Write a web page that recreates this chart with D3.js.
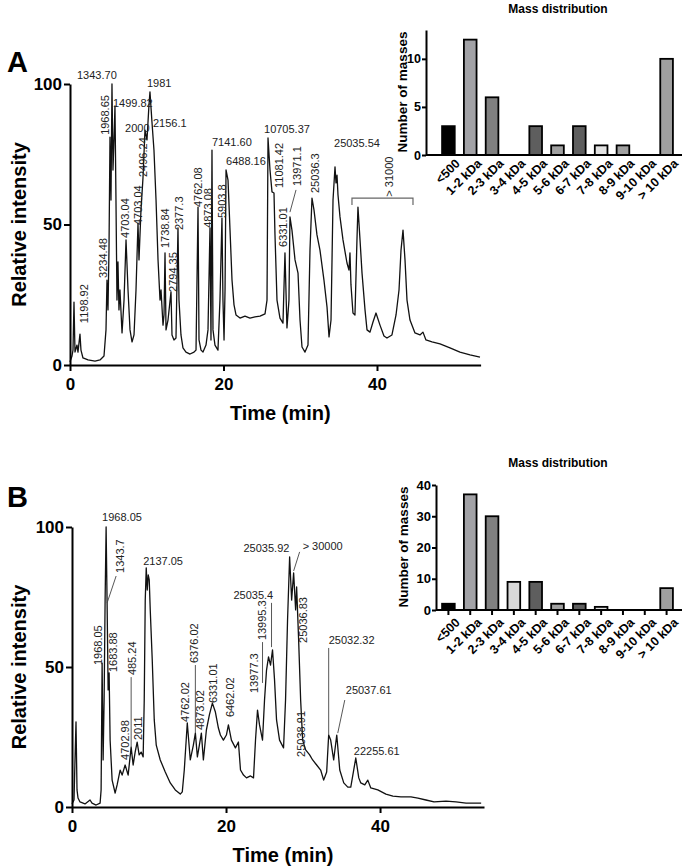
<!DOCTYPE html>
<html><head><meta charset="utf-8">
<script src="https://cdn.jsdelivr.net/npm/d3@7"></script>
<style>body{margin:0;background:#fff} svg{display:block}</style>
</head><body><svg id="c" width="688" height="867"></svg>
<script>
// ---------------- DATA ----------------
const timeA = [0,0.26,0.39,0.52,0.65,0.91,1.04,1.30,1.43,1.69,2.35,3.26,3.91,4.43,4.69,4.82,4.95,5.08,5.21,5.34,5.47,5.60,5.73,5.86,5.99,6.12,6.25,6.38,6.51,6.78,7.04,7.30,7.56,7.82,8.08,8.34,8.60,8.86,8.99,9.25,9.51,9.77,10.03,10.29,10.42,10.68,10.94,11.21,11.47,11.73,11.86,12.12,12.25,12.38,12.51,12.77,13.16,13.29,13.55,13.81,14.07,14.20,14.46,14.72,15.11,15.64,16.16,16.42,16.68,16.81,17.07,17.33,17.72,17.98,18.24,18.37,18.50,18.63,18.89,19.28,19.54,19.80,19.93,20.07,20.20,20.33,20.59,20.85,21.11,21.37,21.63,22.15,22.80,23.45,24.10,24.76,25.41,25.67,25.80,26.06,26.32,26.58,26.71,26.97,27.36,27.75,28.01,28.27,28.53,28.66,28.92,29.32,29.71,29.97,30.23,30.62,31.01,31.27,31.53,31.79,32.18,32.57,33.09,33.49,33.75,34.01,34.27,34.53,34.66,34.79,34.92,35.18,35.57,36.09,36.35,36.48,36.61,36.87,37.13,37.39,37.52,37.79,38.05,38.44,38.70,39.09,39.48,39.87,40.39,40.91,41.30,41.95,42.48,42.87,43.13,43.39,43.65,43.91,44.30,44.95,45.60,45.99,46.38,47.17,48.21,49.51,50.81,52.12,53.42];
const intensityA = [1.1,3.2,5.3,22.4,4.6,7.1,4.6,11.0,5.3,2.5,1.8,1.4,1.8,3.2,12.5,30.2,19.6,40.9,81.1,58.7,100,69.4,80.1,92.2,58.7,23.1,36.7,19.6,26.7,11.4,23.1,44.5,26.7,12.5,8.2,10.7,26.7,50.5,37.4,55.2,66.6,83.6,80.1,92.5,97.2,86.5,76.5,58.7,37.4,23.1,26.7,14.2,17.8,39.9,12.5,16.0,26.0,10.7,8.9,9.6,48.8,23.1,10.7,6.1,4.6,3.9,4.6,5.3,56.2,8.9,5.3,4.6,7.1,12.5,48.8,8.9,76.5,12.5,7.1,5.3,23.1,52.3,23.1,8.9,26.7,69.4,65.8,48.0,30.2,21.4,17.8,16.7,17.4,16.7,17.1,17.4,18.2,23.1,80.8,69.4,61.6,61.2,46.3,23.1,16.7,14.9,39.9,13.2,23.1,52.7,48.0,37.4,32.7,16.0,6.4,4.6,7.1,40.9,59.4,55.2,46.3,40.9,30.2,20.6,10.0,16.0,58.7,70.5,64.8,67.6,60.5,52.7,44.5,36.3,33.8,39.9,28.5,18.5,17.8,44.5,56.2,44.5,32.7,19.6,12.5,11.7,15.3,18.5,14.2,10.3,9.6,10.7,17.8,26.7,40.9,48.0,37.4,23.1,16.0,11.4,10.7,11.7,8.9,8.2,7.5,6.1,4.6,3.6,2.8];

const timeB = [0,0.26,0.39,0.52,0.65,0.78,1.04,1.69,2.34,2.60,3.13,3.65,3.78,3.91,4.04,4.17,4.30,4.43,4.56,4.69,4.82,4.95,5.21,5.60,5.86,6.25,6.51,6.90,7.29,7.68,7.94,8.20,8.46,8.72,8.98,9.24,9.38,9.51,9.64,9.77,9.90,10.03,10.16,10.42,10.68,10.94,11.46,12.11,12.76,13.41,14.06,14.32,14.58,14.97,15.36,15.76,16.02,16.28,16.54,16.80,17.06,17.45,17.84,18.23,18.62,19.01,19.27,19.66,20.05,20.31,20.70,21.22,21.61,21.88,22.27,22.66,23.18,23.57,23.83,24.09,24.35,24.74,25.00,25.26,25.52,25.78,26.04,26.30,26.56,26.95,27.47,27.73,27.99,28.26,28.52,28.78,29.04,29.17,29.43,29.69,29.95,30.34,30.86,31.25,31.77,32.29,32.68,33.07,33.33,33.59,33.98,34.38,34.77,35.29,35.81,36.20,36.85,37.24,37.50,38.02,38.41,38.80,39.71,40.76,41.67,42.71,44.01,44.92,45.96,47.01,48.57,49.87,51.17,53.13];
const intensityB = [1.1,2.5,16.8,30.4,6.1,3.2,1.8,1.1,2.5,1.4,0.7,1.4,6.1,51.4,16.8,38.2,73.9,100,72.1,41.8,47.9,23.9,9.6,5.0,7.9,13.2,11.4,15.0,11.4,21.4,15.0,19.6,23.2,18.6,19.6,17.9,38.2,73.9,85.4,77.5,82.9,81.1,70.4,52.5,31.1,22.1,16.8,12.5,8.6,6.1,4.6,5.4,13.2,30.0,16.8,22.1,26.4,17.9,22.1,26.4,16.8,27.5,32.9,37.1,33.9,28.2,25.7,23.9,25.7,29.3,23.9,21.1,23.2,13.2,11.4,10.4,11.1,10.4,23.9,34.6,29.3,23.9,38.2,48.9,53.6,50.7,56.1,45.4,31.1,23.9,21.1,38.2,66.8,89.3,73.9,83.6,70.4,78.6,59.6,38.2,23.9,20.4,18.6,16.8,15.0,13.2,9.6,12.5,25.7,23.9,16.8,25.7,13.2,8.6,7.1,7.1,17.5,10.4,8.6,7.9,9.6,6.8,6.1,4.6,3.9,3.6,3.6,3.2,2.5,1.8,2.1,1.8,1.4,1.4];

const xTicks = [0, 20, 40];
const yTicks = [0, 50, 100];

// peak annotations: [text, time, intensity, vertical?]
const peakLabelsA = [
  ["1343.70",0.91,101.8,0],["1499.82",5.60,91.8,0],["1981",10.03,98.9,0],["2000",7.17,82.9,0],
  ["2156.1",10.81,84.7,0],["7141.60",18.50,77.9,0],["6488.16",20.33,71.2,0],["10705.37",25.28,82.6,0],
  ["25035.54",34.40,77.6,0],
  ["1198.92",1.82,14.9,1],["3234.48",4.30,31.0,1],["1968.65",4.56,81.9,1],["4703.04",7.17,45.2,1],
  ["4703.04",8.86,49.8,1],["2496.24",9.51,66.9,1],["1738.84",12.38,41.6,1],["2794.35",13.42,26.0,1],
  ["2377.3",14.20,48.0,1],["4762.08",16.68,56.2,1],["4873.08",17.98,48.8,1],["5903.8",19.80,52.3,1],
  ["11081.42",27.23,63.0,1],["6331.01",27.75,42.0,1],["13971.1",29.58,63.7,1],["25036.3",31.92,61.2,1],
  ["> 31000",41.56,59.9,1]
];
const leadersA = [[28.66,54.4,29.45,62.3]];
const bracketA = [36.74, 44.69, 59.4, 56.9];

const peakLabelsB = [
  ["1968.05",3.91,102.1,0],["2137.05",9.24,86.4,0],["25035.92",22.27,91.1,0],["> 30000",29.95,91.8,0],
  ["25035.4",20.96,74.3,0],["25032.32",33.33,58.2,0],["25037.61",35.55,40.4,0],["22255.61",36.59,18.6,0],
  ["1968.05",3.39,50.7,1],["1343.7",6.25,83.6,1],["1683.88",5.34,48.2,1],["485.24",7.81,47.1,1],
  ["4702.98",6.90,16.8,1],["2011",8.59,23.9,1],["4762.02",14.71,30.4,1],["6376.02",15.89,51.4,1],
  ["4873.02",16.67,27.5,1],["6331.01",18.36,37.1,1],["6462.02",20.57,32.1,1],["13977.3",23.70,40.7,1],
  ["13995.3",24.74,59.6,1],["25036.83",29.95,58.6,1],["25038.91",29.69,17.9,1]
];
const leadersB = [
  [4.56,72.9,5.73,82.5],[7.68,46.4,7.68,21.4],[16.02,50.7,16.02,26.4],[24.74,58.9,24.74,44.3],
  [25.91,72.9,25.91,57.1],[28.78,84.3,29.56,91.1],[33.33,56.8,33.33,25.7],[35.42,38.2,34.51,26.4]
];

const massCategories = ["<500","1-2 kDa","2-3 kDa","3-4 kDa","4-5 kDa","5-6 kDa","6-7 kDa","7-8 kDa","8-9 kDa","9-10 kDa","> 10 kDa"];
const massCountsA = [3,12,6,0,3,1,3,1,1,0,10];
const massCountsB = [2,37,30,9,9,2,2,1,0,0,7];
const massTicksA = [0,5,10];
const massTicksB = [0,10,20,30,40];

// ---------------- STYLE ----------------
const FONT = "Arial, 'Liberation Sans', Helvetica, sans-serif";
const barFill = ["#000000","#a2a2a6","#808080","#d9d9d9","#5e5e5e","#a0a0a0","#5e5e5e","#e2e2e2","#a0a0a0","#a0a0a0","#a0a0a0"];
const svg = d3.select("#c");

function styleAxis(g, size) {
  g.selectAll("path.domain").attr("stroke","#000").attr("stroke-width",2);
  g.selectAll(".tick line").attr("stroke","#000").attr("stroke-width",2);
  g.selectAll(".tick text").attr("fill","#000").style("font-family",FONT)
    .style("font-weight","bold").style("font-size",size+"px");
}

function drawChrom(o) {
  const x = d3.scaleLinear().domain([0,53.5]).range(o.xr);
  const y = d3.scaleLinear().domain([0,100]).range(o.yr);
  const g = svg.append("g");
  const pts = o.times.map((t,i)=>[t,o.vals[i]]);
  g.append("path").datum(pts)
    .attr("d", d3.line().x(d=>x(d[0])).y(d=>y(d[1])))
    .attr("fill","none").attr("stroke","#111").attr("stroke-width",1.3).attr("stroke-linejoin","round");

  const gx = g.append("g").attr("transform",`translate(0,${o.yr[0]})`)
    .call(d3.axisBottom(x).tickValues(xTicks).tickSize(6).tickSizeOuter(0).tickPadding(7).tickFormat(d3.format("d")));
  styleAxis(gx, 17);
  const gy = g.append("g").attr("transform",`translate(${o.xr[0]},0)`)
    .call(d3.axisLeft(y).tickValues(yTicks).tickSize(6).tickSizeOuter(0).tickPadding(2).tickFormat(d3.format("d")));
  styleAxis(gy, 17);

  g.selectAll("line.ld").data(o.leaders).enter().append("line")
    .attr("x1",d=>x(d[0])).attr("y1",d=>y(d[1])).attr("x2",d=>x(d[2])).attr("y2",d=>y(d[3]))
    .attr("stroke","#444").attr("stroke-width",0.9);

  g.selectAll("text.pk").data(o.labels).enter().append("text")
    .attr("transform",d=> d[3] ? `translate(${x(d[1])},${y(d[2])}) rotate(-90)` : `translate(${x(d[1])},${y(d[2])})`)
    .attr("dy",d=> d[3] ? "0.35em" : 0)
    .attr("text-anchor","start")
    .style("font-family",FONT).style("font-size","11px").attr("fill","#222")
    .text(d=>d[0]);

  if (o.bracket) {
    const b = o.bracket;
    g.append("path")
      .attr("d",`M${x(b[0])},${y(b[3])}V${y(b[2])}H${x(b[1])}V${y(b[3])}`)
      .attr("fill","none").attr("stroke","#666").attr("stroke-width",1.2);
  }

  g.append("text").attr("x",(o.xr[0]+o.xr[1])/2+5).attr("y",o.yr[0]+55).attr("text-anchor","middle")
    .style("font-family",FONT).style("font-weight","bold").style("font-size","20px").text("Time (min)");
  g.append("text").attr("transform",`translate(26,${(o.yr[0]+o.yr[1])/2}) rotate(-90)`).attr("text-anchor","middle")
    .style("font-family",FONT).style("font-weight","bold").style("font-size","20px").text("Relative intensity");
  g.append("text").attr("x",7).attr("y",o.letterY)
    .style("font-family",FONT).style("font-weight","bold").style("font-size","29px").text(o.letter);
}

function drawInset(o) {
  const g = svg.append("g");
  const x = d3.scaleBand().domain(massCategories).range([437.5,677.5]).paddingInner(0.42).paddingOuter(0.21);
  const y = d3.scaleLinear().domain([0,o.ymax]).range([o.y0,o.ytop]);
  g.selectAll("rect").data(o.counts).enter().append("rect")
    .attr("x",(d,i)=>x(massCategories[i])).attr("width",x.bandwidth())
    .attr("y",d=>y(d)).attr("height",d=>y(0)-y(d))
    .attr("fill",(d,i)=>barFill[i]).attr("stroke","#000").attr("stroke-width",1.8);
  const gy = g.append("g").attr("transform",`translate(${o.ax},0)`)
    .call(d3.axisLeft(y).tickValues(o.ticks).tickSize(4).tickSizeOuter(0).tickPadding(1));
  styleAxis(gy, o.tickFont);
  g.append("line").attr("x1",o.ax).attr("x2",682).attr("y1",o.y0).attr("y2",o.y0)
    .attr("stroke","#000").attr("stroke-width",2);
  if (o.showTicks) {
    g.selectAll("line.xt").data(massCategories).enter().append("line")
      .attr("x1",d=>x(d)+x.bandwidth()/2).attr("x2",d=>x(d)+x.bandwidth()/2)
      .attr("y1",o.y0).attr("y2",o.y0+5).attr("stroke","#000").attr("stroke-width",2);
  }
  const off = o.showTicks ? 7 : 3;
  g.selectAll("text.xl").data(massCategories).enter().append("text")
    .attr("transform",d=>`translate(${x(d)+x.bandwidth()/2+6},${o.y0+off}) rotate(-45)`)
    .attr("text-anchor","end").attr("dy","0.71em")
    .style("font-family",FONT).style("font-weight","bold").style("font-size","12.5px").text(d=>d);
  g.append("text").attr("x",558).attr("y",o.titleY).attr("text-anchor","middle")
    .style("font-family",FONT).style("font-weight","bold").style("font-size","12px").text("Mass distribution");
  g.append("text").attr("transform",`translate(${o.labX},${o.labY}) rotate(-90)`).attr("text-anchor","middle")
    .style("font-family",FONT).style("font-weight","bold").style("font-size","13.5px").text("Number of masses");
}

drawChrom({times:timeA, vals:intensityA, xr:[70,480.6], yr:[365,84], labels:peakLabelsA, leaders:leadersA, bracket:bracketA, letter:"A", letterY:72});
drawChrom({times:timeB, vals:intensityB, xr:[72,484], yr:[807,527], labels:peakLabelsB, leaders:leadersB, bracket:null, letter:"B", letterY:507});

drawInset({counts:massCountsA, ymax:13, ticks:massTicksA, ax:426, y0:155, ytop:30, showTicks:false, titleY:13, labX:407, labY:92, tickFont:12.5});
drawInset({counts:massCountsB, ymax:40, ticks:massTicksB, ax:436, y0:610, ytop:485, showTicks:true, titleY:467, labX:408, labY:547, tickFont:13});
</script></body></html>
